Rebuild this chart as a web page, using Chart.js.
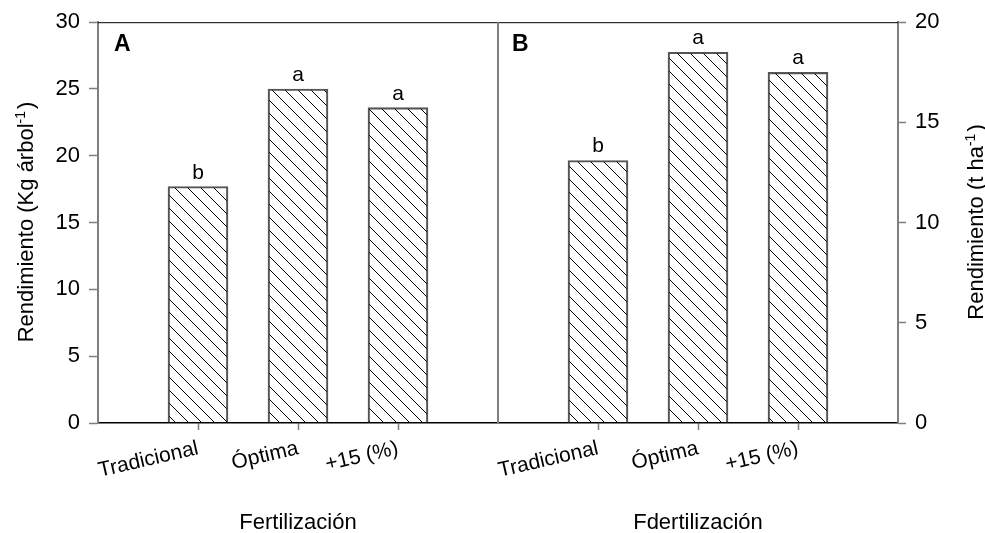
<!DOCTYPE html>
<html>
<head>
<meta charset="utf-8">
<script src="https://cdn.jsdelivr.net/npm/chart.js@4.4.1/dist/chart.umd.min.js"></script>
<style>
  html, body { margin: 0; padding: 0; background: #fff; }
  #wrap { width: 985px; height: 533px; }
</style>
</head>
<body>
<div id="wrap"><canvas id="c" width="985" height="533"></canvas></div>
<script>
// Yield by fertilization treatment
const categories = ['Tradicional', 'Óptima', '+15 (%)'];
const yieldPerTree = [17.7, 25.0, 23.6];   // Kg árbol-1
const yieldPerHa = [13.1, 18.5, 17.5];     // t ha-1
const lettersTree = ['b', 'a', 'a'];
const lettersHa = ['b', 'a', 'a'];
const panelLabels = ['A', 'B'];
const panelTitles = ['Fertilización', 'Fdertilización'];
const treeAxisMax = 30;
const haAxisMax = 20;
const tickStep = 5;

const FONT = '"Liberation Sans", Arial, Helvetica, sans-serif';
const GRAY = '#7f7f7f';

// Category slots: an empty slot at each panel edge, three treatments per panel
const slotLabels = ['', ...categories, '', ...categories, ''];
const treeData = [null, ...yieldPerTree, null, null, null, null, null];
const haData = [null, null, null, null, null, ...yieldPerHa, null];

const canvas = document.getElementById('c');
const ctx2d = canvas.getContext('2d');

// Diagonal "\" hatch fill
function makeHatch(step) {
  const c = document.createElement('canvas');
  c.width = step; c.height = step;
  const g = c.getContext('2d');
  g.strokeStyle = '#000';
  g.lineWidth = 1;
  g.beginPath();
  g.moveTo(-1, -1); g.lineTo(step + 1, step + 1);
  g.moveTo(-1, step - 1); g.lineTo(1, step + 1);
  g.moveTo(step - 1, -1); g.lineTo(step + 1, 1);
  g.stroke();
  return ctx2d.createPattern(c, 'repeat');
}
const hatch = makeHatch(13);

function drawRotatedTitle(ctx, cx, cy, main, sup, tail) {
  ctx.save();
  ctx.translate(cx, cy);
  ctx.rotate(-Math.PI / 2);
  const fMain = '22px ' + FONT;
  const fSup = '14px ' + FONT;
  ctx.font = fMain;
  const w1 = ctx.measureText(main).width;
  const w3 = ctx.measureText(tail).width;
  ctx.font = fSup;
  const w2 = ctx.measureText(sup).width;
  let x = -(w1 + w2 + 2 + w3) / 2;
  ctx.fillStyle = '#000';
  ctx.textBaseline = 'alphabetic';
  ctx.textAlign = 'left';
  ctx.font = fMain;
  ctx.fillText(main, x, 8);
  x += w1;
  ctx.font = fSup;
  ctx.fillText(sup, x, 0);
  x += w2 + 2;
  ctx.font = fMain;
  ctx.fillText(tail, x, 8);
  ctx.restore();
}

const decorations = {
  id: 'decorations',
  afterDraw(chart) {
    const ctx = chart.ctx;
    const area = chart.chartArea;
    const xs = chart.scales.x;
    const divX = xs.getPixelForValue(4);

    ctx.save();
    // top frame line
    ctx.strokeStyle = '#000';
    ctx.lineWidth = 1;
    ctx.beginPath();
    ctx.moveTo(area.left, area.top + 0.5);
    ctx.lineTo(area.right, area.top + 0.5);
    ctx.stroke();

    // panel divider
    ctx.strokeStyle = GRAY;
    ctx.lineWidth = 2;
    ctx.beginPath();
    ctx.moveTo(divX, area.top);
    ctx.lineTo(divX, area.bottom);
    ctx.stroke();

    // panel letters
    ctx.fillStyle = '#000';
    ctx.font = 'bold 23px ' + FONT;
    ctx.textAlign = 'left';
    ctx.textBaseline = 'alphabetic';
    ctx.fillText(panelLabels[0], area.left + 16, area.top + 29);
    ctx.fillText(panelLabels[1], divX + 14, area.top + 29);

    // significance letters above bars
    ctx.font = '21px ' + FONT;
    ctx.textAlign = 'center';
    [lettersTree, lettersHa].forEach((letters, di) => {
      const meta = chart.getDatasetMeta(di);
      let k = 0;
      meta.data.forEach((el, i) => {
        const v = chart.data.datasets[di].data[i];
        if (v === null || v === undefined) return;
        ctx.fillText(letters[k++], el.x, el.y - 8);
      });
    });

    // panel x titles
    ctx.font = '22px ' + FONT;
    ctx.fillText(panelTitles[0], (area.left + divX) / 2, 529);
    ctx.fillText(panelTitles[1], (divX + area.right) / 2, 529);
    ctx.restore();

    // y axis titles
    drawRotatedTitle(ctx, 25, 222, 'Rendimiento (Kg árbol', '-1', ')');
    drawRotatedTitle(ctx, 975, 222, 'Rendimiento (t ha', '-1', ')');
  }
};

const barStyle = {
  backgroundColor: hatch,
  borderColor: '#555',
  borderWidth: 1.5,
  barThickness: 60,
  grouped: false
};

new Chart(canvas, {
  type: 'bar',
  data: {
    labels: slotLabels,
    datasets: [
      Object.assign({ label: 'Kg árbol-1', data: treeData, yAxisID: 'yA' }, barStyle),
      Object.assign({ label: 't ha-1', data: haData, yAxisID: 'yB' }, barStyle)
    ]
  },
  options: {
    responsive: false,
    animation: false,
    devicePixelRatio: 1,
    layout: { padding: { top: 22, left: 0, right: 0, bottom: 0 } },
    plugins: {
      legend: { display: false },
      tooltip: { enabled: false },
      title: { display: false }
    },
    scales: {
      x: {
        type: 'category',
        offset: false,
        grid: {
          offset: false,
          drawOnChartArea: false,
          drawTicks: true,
          tickLength: 7,
          tickWidth: 1.5,
          tickColor: (c) => (slotLabels[c.index] ? GRAY : 'rgba(0,0,0,0)')
        },
        border: { color: '#000', width: 1.5 },
        ticks: {
          autoSkip: false,
          minRotation: 13,
          maxRotation: 13,
          padding: 6,
          color: '#000',
          font: { family: FONT, size: 21 }
        },
        afterFit: (s) => { s.height = 110; }
      },
      yA: {
        type: 'linear',
        position: 'left',
        min: 0,
        max: treeAxisMax,
        grid: { drawOnChartArea: false, tickLength: 9, tickWidth: 1.5, tickColor: GRAY },
        border: { color: GRAY, width: 2 },
        ticks: { stepSize: tickStep, padding: 9, color: '#000', font: { family: FONT, size: 22 } },
        afterFit: (s) => { s.width = 98; }
      },
      yB: {
        type: 'linear',
        position: 'right',
        min: 0,
        max: haAxisMax,
        grid: { drawOnChartArea: false, tickLength: 8, tickWidth: 1.5, tickColor: GRAY },
        border: { color: GRAY, width: 2 },
        ticks: { stepSize: tickStep, padding: 9, color: '#000', font: { family: FONT, size: 22 } },
        afterFit: (s) => { s.width = 87; }
      }
    }
  },
  plugins: [decorations]
});
</script>
</body>
</html>
